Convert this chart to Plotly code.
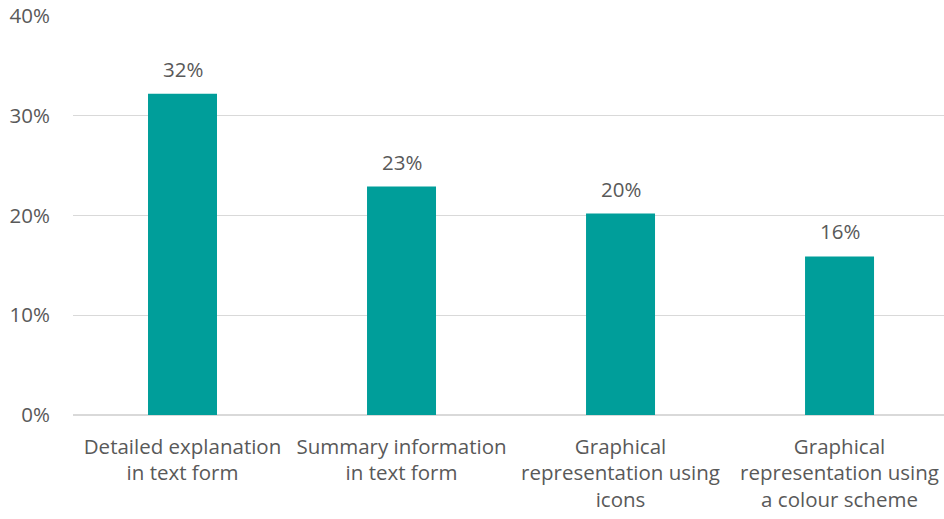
import plotly.graph_objects as go

categories = [
    "Detailed explanation<br>in text form",
    "Summary information<br>in text form",
    "Graphical<br>representation using<br>icons",
    "Graphical<br>representation using<br>a colour scheme",
]
values = [0.322, 0.229, 0.202, 0.159]
value_labels = ["32%", "23%", "20%", "16%"]
y_ticks = [0, 0.1, 0.2, 0.3, 0.4]
y_tick_labels = ["0%", "10%", "20%", "30%", "40%"]

TEXT = "#595959"
FONT = "Open Sans"
FS = 20.5

fig = go.Figure()
fig.add_trace(go.Bar(
    x=categories, y=values,
    marker=dict(color="#009E9A", line=dict(width=0)),
    width=0.315,
    hoverinfo="skip",
))

for c, v, lab in zip(categories, values, value_labels):
    fig.add_annotation(
        x=c, y=v, text=lab, showarrow=False,
        yanchor="bottom", yshift=9,
        font=dict(family=FONT, size=FS, color=TEXT),
    )

fig.update_layout(
    width=944, height=519,
    margin=dict(l=73, r=0, t=16, b=104),
    plot_bgcolor="white", paper_bgcolor="white",
    showlegend=False,
    font=dict(family=FONT, size=FS, color=TEXT),
)
fig.update_xaxes(
    range=[-0.5, 3.477],
    automargin=False,
    showgrid=False, showline=False, zeroline=False,
    ticks="outside", ticklen=13, tickcolor="rgba(0,0,0,0)",
    tickfont=dict(family=FONT, size=FS, color=TEXT),
)
fig.update_yaxes(
    range=[0, 0.4],
    automargin=False,
    tickvals=y_ticks, ticktext=y_tick_labels,
    showgrid=True, gridcolor="#D9D9D9", gridwidth=1.3,
    zeroline=True, zerolinecolor="#D9D9D9", zerolinewidth=1.3,
    showline=False,
    ticks="outside", ticklen=18, tickcolor="rgba(0,0,0,0)",
    tickfont=dict(family=FONT, size=FS, color=TEXT),
)

fig.write_html(
    "out.html",
    config={"displayModeBar": False, "staticPlot": True},
    post_script="document.body.style.margin='0';document.body.style.overflow='hidden';",
)
